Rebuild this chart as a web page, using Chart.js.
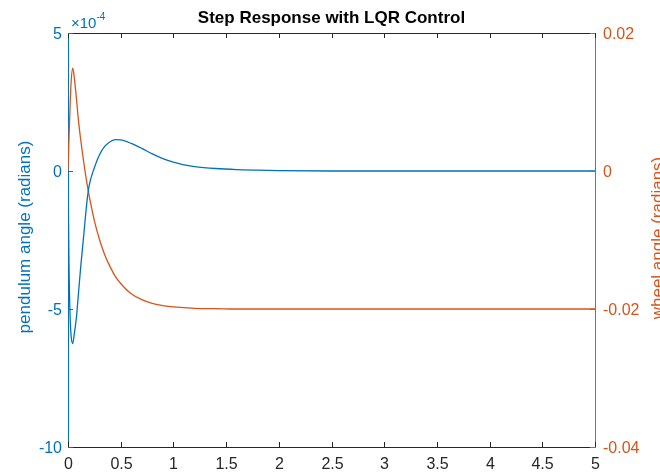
<!DOCTYPE html>
<html>
<head>
<meta charset="utf-8">
<script src="https://cdn.jsdelivr.net/npm/chart.js@4.4.1/dist/chart.umd.min.js"></script>
<style>
  html, body { margin: 0; padding: 0; background: #fff; }
  #wrap { width: 660px; height: 475px; }
</style>
</head>
<body>
<div id="wrap"><canvas id="c" width="660" height="475"></canvas></div>
<script>
// time (s)
const timeS = [0, 0.01, 0.02, 0.03, 0.045, 0.06, 0.08, 0.1, 0.12, 0.15, 0.18, 0.2, 0.25, 0.3, 0.35, 0.4, 0.45, 0.5, 0.6, 0.7, 0.8, 0.9, 1.0, 1.1, 1.2, 1.4, 1.6, 1.8, 2.0, 2.5, 3, 4, 5];
// pendulum angle, in units of 1e-4 rad (left axis)
const pendulumE4 = [0, -3.6, -5.3, -6.0, -6.25, -5.9, -5.3, -4.4, -3.5, -2.3, -1.1, -0.55, 0.12, 0.6, 0.9, 1.06, 1.14, 1.13, 1.0, 0.82, 0.62, 0.45, 0.32, 0.22, 0.16, 0.09, 0.05, 0.03, 0.015, 0, 0, 0, 0];
// wheel angle, rad (right axis)
const wheelRad = [0, 0.005, 0.0095, 0.013, 0.0149, 0.0135, 0.0105, 0.0072, 0.0046, 0.0012, -0.0018, -0.0035, -0.0072, -0.01, -0.0122, -0.0139, -0.0153, -0.0163, -0.0178, -0.01865, -0.0192, -0.0195, -0.0197, -0.0198, -0.0199, -0.01995, -0.02, -0.02, -0.02, -0.02, -0.02, -0.02, -0.02];

const xTicks = [0, 0.5, 1, 1.5, 2, 2.5, 3, 3.5, 4, 4.5, 5];
const xTickLabels = ["0", "0.5", "1", "1.5", "2", "2.5", "3", "3.5", "4", "4.5", "5"];
const leftTicks = [5, 0, -5, -10];
const leftTickLabels = ["5", "0", "-5", "-10"];
const rightTicks = [0.02, 0, -0.02, -0.04];
const rightTickLabels = ["0.02", "0", "-0.02", "-0.04"];

const blue = "#0072BD";
const orange = "#D95319";
const axisBlack = "#262626";
const font = "'Liberation Sans', Arial, sans-serif";

const decor = {
  id: "decor",
  afterDraw(chart) {
    const { ctx, chartArea: a, scales } = chart;
    ctx.save();
    // box top line
    ctx.strokeStyle = axisBlack;
    ctx.lineWidth = 1;
    ctx.beginPath();
    ctx.moveTo(a.left, a.top + 0.5);
    ctx.lineTo(a.right, a.top + 0.5);
    ctx.stroke();

    ctx.font = "16px " + font;
    // x ticks + labels
    ctx.fillStyle = axisBlack;
    ctx.textAlign = "center";
    ctx.textBaseline = "middle";
    xTicks.forEach((v, i) => {
      const px = Math.round(scales.x.getPixelForValue(v)) + 0.5;
      ctx.beginPath();
      ctx.moveTo(px, a.bottom);
      ctx.lineTo(px, a.bottom - 5);
      ctx.moveTo(px, a.top);
      ctx.lineTo(px, a.top + 5);
      ctx.stroke();
      ctx.fillText(xTickLabels[i], px, a.bottom + 18);
    });
    // left y ticks
    ctx.strokeStyle = blue;
    ctx.fillStyle = blue;
    ctx.textAlign = "right";
    leftTicks.forEach((v, i) => {
      const py = Math.round(scales.yL.getPixelForValue(v)) + 0.5;
      ctx.beginPath();
      ctx.moveTo(a.left, py);
      ctx.lineTo(a.left + 5, py);
      ctx.stroke();
      ctx.fillText(leftTickLabels[i], a.left - 6, py + 1);
    });
    // right y ticks
    ctx.strokeStyle = orange;
    ctx.fillStyle = orange;
    ctx.textAlign = "left";
    rightTicks.forEach((v, i) => {
      const py = Math.round(scales.yR.getPixelForValue(v)) + 0.5;
      ctx.beginPath();
      ctx.moveTo(a.right, py);
      ctx.lineTo(a.right - 5, py);
      ctx.stroke();
      ctx.fillText(rightTickLabels[i], a.right + 8, py + 1);
    });

    // title
    ctx.fillStyle = "#000";
    ctx.font = "bold 17px " + font;
    ctx.textAlign = "center";
    ctx.textBaseline = "alphabetic";
    ctx.fillText("Step Response with LQR Control", (a.left + a.right) / 2, 23);
    // exponent label
    ctx.fillStyle = blue;
    ctx.textAlign = "left";
    ctx.font = "15px " + font;
    ctx.fillText("\u00d710", 71, 28);
    const w = ctx.measureText("\u00d710").width;
    ctx.font = "10px " + font;
    ctx.fillText("-4", 71 + w, 20);
    // axis titles
    ctx.font = "17px " + font;
    ctx.textAlign = "center";
    ctx.textBaseline = "middle";
    ctx.save();
    ctx.translate(25, (a.top + a.bottom) / 2 - 3);
    ctx.rotate(-Math.PI / 2);
    ctx.fillStyle = blue;
    ctx.fillText("pendulum angle (radians)", 0, 0);
    ctx.restore();
    ctx.save();
    ctx.translate(658, (a.top + a.bottom) / 2 - 2);
    ctx.rotate(-Math.PI / 2);
    ctx.fillStyle = orange;
    ctx.fillText("wheel angle (radians)", 0, 0);
    ctx.restore();
    ctx.restore();
  }
};

const pts = (ys) => timeS.map((t, i) => ({ x: t, y: ys[i] }));

new Chart(document.getElementById("c"), {
  type: "line",
  data: {
    datasets: [
      { data: pts(pendulumE4), yAxisID: "yL", borderColor: blue, borderWidth: 1.3, pointRadius: 0, fill: false, cubicInterpolationMode: "monotone" },
      { data: pts(wheelRad), yAxisID: "yR", borderColor: orange, borderWidth: 1.3, pointRadius: 0, fill: false, cubicInterpolationMode: "monotone" }
    ]
  },
  options: {
    responsive: false,
    animation: false,
    events: [],
    layout: { padding: { top: 33, left: 0, right: 0, bottom: 0 } },
    plugins: { legend: { display: false }, title: { display: false }, tooltip: { enabled: false } },
    scales: {
      x: {
        type: "linear", min: 0, max: 5,
        afterFit: s => { s.height = 28; },
        grid: { display: false },
        border: { display: true, color: axisBlack, width: 1 },
        ticks: { display: false }
      },
      yL: {
        type: "linear", position: "left", min: -10, max: 5,
        afterFit: s => { s.width = 68; },
        grid: { display: false },
        border: { display: true, color: blue, width: 1 },
        ticks: { display: false }
      },
      yR: {
        type: "linear", position: "right", min: -0.04, max: 0.02,
        afterFit: s => { s.width = 65; },
        grid: { display: false },
        border: { display: true, color: orange, width: 1 },
        ticks: { display: false }
      }
    }
  },
  plugins: [decor]
});
</script>
</body>
</html>
